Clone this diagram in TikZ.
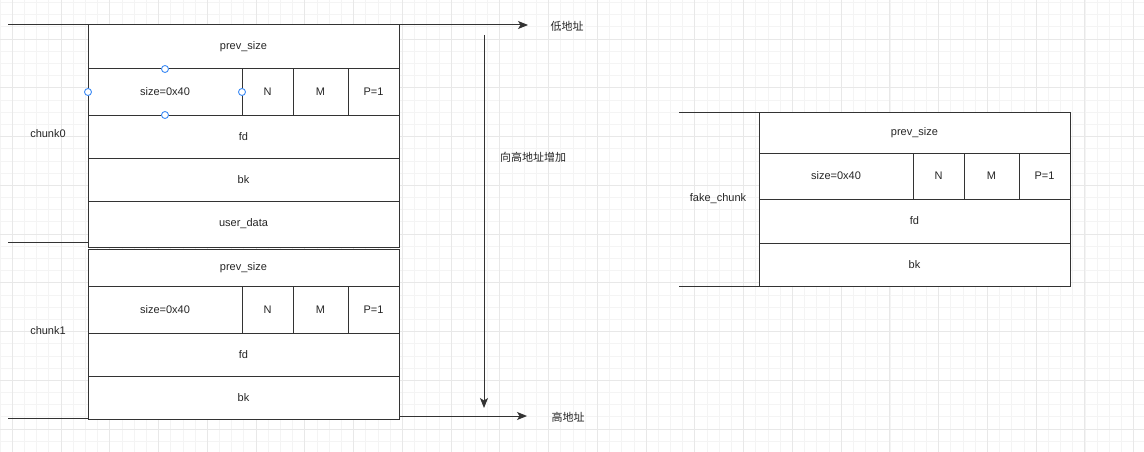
\documentclass[tikz,border=0pt]{standalone}
\usepackage{fontspec}
\setmainfont{Liberation Sans}
\newfontfamily\cjk{Noto Sans CJK SC}
\usetikzlibrary{arrows.meta}
\definecolor{gridmin}{HTML}{F4F4F4}
\definecolor{gridmaj}{HTML}{E8E8E8}
\definecolor{linegray}{HTML}{333333}
\definecolor{handleblue}{HTML}{3F8CF5}
\tikzset{
  cell/.style={draw=linegray, fill=white, line width=1pt, anchor=north west,
    inner sep=0pt, outer sep=0pt, text=black!85},
  rule/.style={draw=linegray, line width=1pt},
  arr/.style={rule, -{Stealth[length=10pt, width=8pt, inset=2.5pt]}},
  addr/.style={text=black!85, font=\cjk\fontsize{11}{13}\selectfont},
  handle/.style={draw=handleblue, fill=white, line width=0.9pt},
}
\begin{document}
\begin{tikzpicture}[x=1pt, y=-1pt, font=\fontsize{11}{13}\selectfont]
  \useasboundingbox (0,0) rectangle (1144,452);
  \fill[white] (0,0) rectangle (1144,452);
  % grid of the canvas
  \foreach \i in {0,...,93} \draw[gridmin, line width=0.8pt] ({0.06+12.19*\i},0) -- ++(0,452);
  \foreach \j in {0,...,36} \draw[gridmin, line width=0.8pt] (0,{2.43+12.19*\j}) -- ++(1144,0);
  \foreach \i in {0,...,23} \draw[gridmaj, line width=0.8pt] ({12.25+48.75*\i},0) -- ++(0,452);
  \foreach \j in {0,...,8} \draw[gridmaj, line width=0.8pt] (0,{39+48.75*\j}) -- ++(1144,0);

  % chunk0
  \node[cell, minimum width=311pt, minimum height=44pt] (prev0) at (88,25) {prev\_size};
  \node[cell, minimum width=154pt, minimum height=46pt] (size0) at (prev0.south west) {size=0x40};
  \node[cell, minimum width=51pt, minimum height=46pt] (n0) at (size0.north east) {N};
  \node[cell, minimum width=55pt, minimum height=46pt] (m0) at (n0.north east) {M};
  \node[cell, minimum width=51pt, minimum height=46pt] (p0) at (m0.north east) {P=1};
  \node[cell, minimum width=311pt, minimum height=43pt] (fd0) at (size0.south west) {fd};
  \node[cell, minimum width=311pt, minimum height=43pt] (bk0) at (fd0.south west) {bk};
  \node[cell, minimum width=311pt, minimum height=46pt] (data0) at (bk0.south west) {user\_data};
  \node[text=black!85] (lbl0) at (48,134) {chunk0};
  \foreach \a in {north,west,east,south} \draw[handle] (size0.\a) circle (3.5pt);

  % chunk1
  \node[cell, minimum width=311pt, minimum height=37pt] (prev1) at (88,249) {prev\_size};
  \node[cell, minimum width=154pt, minimum height=47pt] (size1) at (prev1.south west) {size=0x40};
  \node[cell, minimum width=51pt, minimum height=47pt] (n1) at (size1.north east) {N};
  \node[cell, minimum width=55pt, minimum height=47pt] (m1) at (n1.north east) {M};
  \node[cell, minimum width=51pt, minimum height=47pt] (p1) at (m1.north east) {P=1};
  \node[cell, minimum width=311pt, minimum height=43pt] (fd1) at (size1.south west) {fd};
  \node[cell, minimum width=311pt, minimum height=43pt] (bk1) at (fd1.south west) {bk};
  \node[text=black!85] (lbl1) at (48,331) {chunk1};

  % fake_chunk
  \node[cell, minimum width=311pt, minimum height=41pt] (prevf) at (759,112) {prev\_size};
  \node[cell, minimum width=154pt, minimum height=46pt] (sizef) at (prevf.south west) {size=0x40};
  \node[cell, minimum width=51pt, minimum height=46pt] (nf) at (sizef.north east) {N};
  \node[cell, minimum width=55pt, minimum height=46pt] (mf) at (nf.north east) {M};
  \node[cell, minimum width=51pt, minimum height=46pt] (pf) at (mf.north east) {P=1};
  \node[cell, minimum width=311pt, minimum height=44pt] (fdf) at (sizef.south west) {fd};
  \node[cell, minimum width=311pt, minimum height=43pt] (bkf) at (fdf.south west) {bk};
  \node[text=black!85] (lblf) at (718,199) {fake\_chunk};

  % edges of the chunks
  \coordinate (topL) at (8,25);
  \coordinate (topR) at (463,25);
  \draw[rule] (topL) -- (topR);
  \coordinate (cut0) at (8,242);
  \draw[rule] (cut0) -- (cut0 -| data0.west);
  \coordinate (cut1) at (8,418);
  \draw[rule] (cut1) -- (cut1 -| bk1.west);
  \coordinate (cutf0) at (679,112);
  \draw[rule] (cutf0) -- (cutf0 -| prevf.west);
  \coordinate (cutf1) at (679,286);
  \draw[rule] (cutf1) -- (cutf1 -| bkf.west);

  % addresses
  \node[addr] (low) at (567,26) {低地址};
  \node[addr] (high) at (568,417) {高地址};
  \node[addr] (grow) at (533,157) {向高地址增加};
  \coordinate (lowtip) at (528,25);
  \draw[arr] (prev0.north east) -- (lowtip);
  \coordinate (hightip) at (527,416);
  \draw[arr] (bk1.east |- hightip) -- (hightip);
  \coordinate (growtop) at (484,35);
  \coordinate (growbot) at (484,408);
  \draw[arr] (growtop) -- (growbot);
\end{tikzpicture}
\end{document}
